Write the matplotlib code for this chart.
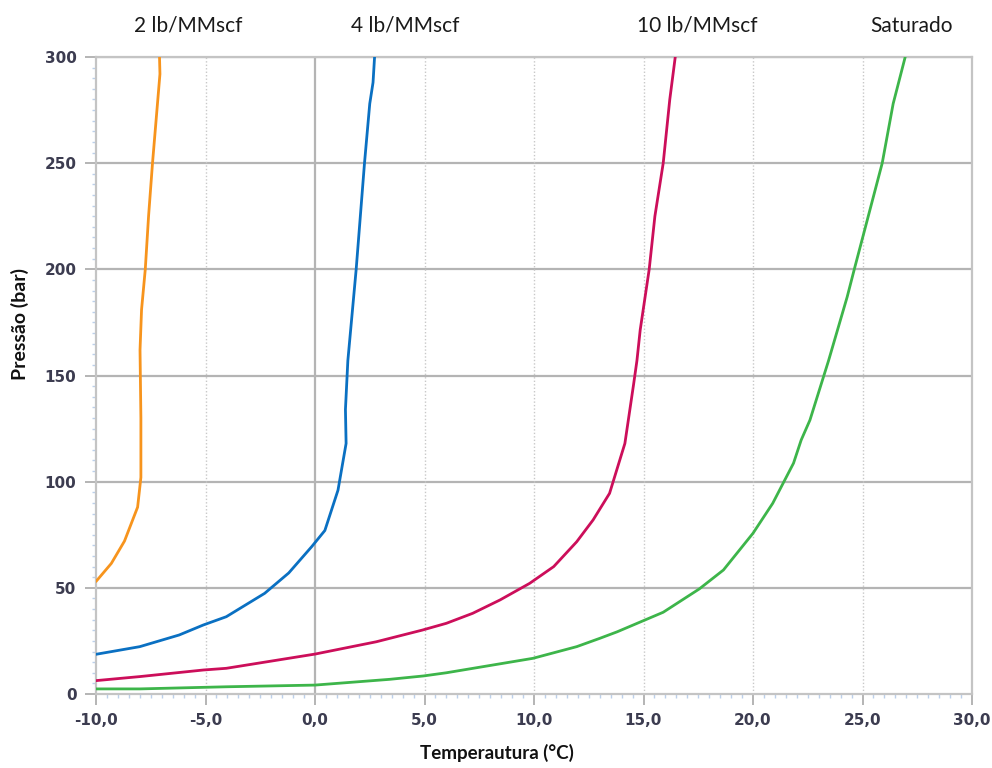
import numpy as np
import matplotlib.pyplot as plt
from matplotlib.ticker import MultipleLocator, FuncFormatter

# curves: temperature (°C) vs pressure (bar)
t_2lb = [-10.0, -9.3, -8.7, -8.1, -7.95, -7.95, -7.99, -7.92, -7.75, -7.6, -7.42, -7.08, -7.1]
p_2lb = [53, 61.5, 72, 88, 102, 130, 162, 181, 200, 225, 250, 292, 300]

t_4lb = [-10.0, -8.0, -6.2, -5.1, -4.05, -2.3, -1.2, -0.15, 0.45, 1.05, 1.42, 1.39, 1.5,
         1.88, 2.26, 2.5, 2.65, 2.72]
p_4lb = [18.7, 22.3, 27.8, 32.5, 36.4, 47.4, 57, 69.4, 77, 96, 118, 134, 157,
         200, 250, 278, 288, 300]

t_10lb = [-10.0, -8.0, -5.1, -4.05, 0.0, 2.8, 4.9, 6.0, 7.2, 8.45, 9.8, 10.9, 11.95, 12.7,
          13.45, 14.15, 14.55, 14.7, 14.85, 15.26, 15.52, 15.9, 16.2, 16.45]
p_10lb = [6.3, 8.2, 11.3, 12.1, 18.8, 24.6, 30.1, 33.3, 38, 44.3, 52.1, 60, 71.7, 82,
          94.5, 118, 146, 157, 171.5, 200, 225, 250, 280, 300]

t_sat = [-10.0, -8.0, -4.05, 0.0, 3.4, 4.95, 6.0, 9.95, 11.95, 13.0, 13.8, 15.9, 17.55,
         18.65, 20.0, 20.9, 21.85, 22.2, 22.6, 23.45, 24.3, 24.65, 25.1, 25.9, 26.4, 26.95]
p_sat = [2.4, 2.4, 3.4, 4.2, 6.9, 8.5, 10, 16.8, 22.3, 26.2, 29.3, 38.5, 49.5,
         58.4, 75.7, 89.8, 108.7, 119.6, 129, 157, 187, 201, 218.6, 250, 278, 300]

labels = ["2 lb/MMscf", "4 lb/MMscf", "10 lb/MMscf", "Saturado"]
colors = ["#F7941D", "#0A70C2", "#CC0E5A", "#3DB54A"]
x_ticks = [-10, -5, 0, 5, 10, 15, 20, 25, 30]

fig = plt.figure(figsize=(9.92, 7.68), dpi=100)
ax = fig.add_axes([96/992, 1 - 694/768, (972 - 96)/992, (694 - 57)/768])

ax.set_xlim(-10, 30)
ax.set_ylim(0, 300)

# grid: solid horizontals, dotted verticals except the zero line
for y in range(50, 301, 50):
    ax.axhline(y, color="#B4B4B4", lw=1.6, zorder=1)
for x in x_ticks[1:-1]:
    if x == 0:
        ax.axvline(x, color="#B4B4B4", lw=1.6, zorder=1)
    else:
        ax.axvline(x, color="#C8C8C8", lw=1.0, ls=(0, (1, 1.5)), zorder=1)

for t, p, c in zip([t_2lb, t_4lb, t_10lb, t_sat], [p_2lb, p_4lb, p_10lb, p_sat], colors):
    ax.plot(t, p, color=c, lw=2.0, zorder=3, solid_capstyle="round", solid_joinstyle="round")

for side in ["top", "right", "bottom", "left"]:
    ax.spines[side].set_color("#C4C4C4")
    ax.spines[side].set_linewidth(1.6)

ax.xaxis.set_major_locator(MultipleLocator(5))
ax.xaxis.set_minor_locator(MultipleLocator(0.5))
ax.yaxis.set_major_locator(MultipleLocator(50))
ax.yaxis.set_minor_locator(MultipleLocator(5))
ax.xaxis.set_major_formatter(FuncFormatter(lambda v, _: f"{v:.1f}".replace(".", ",")))
ax.yaxis.set_major_formatter(FuncFormatter(lambda v, _: f"{v:.0f}"))

ax.tick_params(which="major", direction="out", length=8, width=1.4, color="#B4B4B4",
               labelsize=11, labelcolor="#3C3C50", pad=6)
ax.tick_params(which="minor", direction="out", length=3, width=1.0, color="#BCD0EA")
for lab in ax.get_xticklabels() + ax.get_yticklabels():
    lab.set_fontweight("bold")

label_x = [188, 405, 697, 912]
for txt, px in zip(labels, label_x):
    fig.text(px/992, 1 - 26/768, txt, ha="center", va="center",
             fontsize=15, family="Lato", color="#1A1A1A")

fig.text(497/992, 1 - 753/768, "Temperautura (°C)", ha="center", va="center",
         fontsize=13.5, family="Lato", fontweight="bold", color="#111111")
fig.text(20/992, 1 - 324/768, "Pressão (bar)", ha="center", va="center", rotation=90,
         fontsize=14, family="Lato", fontweight="bold", color="#111111")

fig.savefig("out.png", dpi=100, facecolor="white")
